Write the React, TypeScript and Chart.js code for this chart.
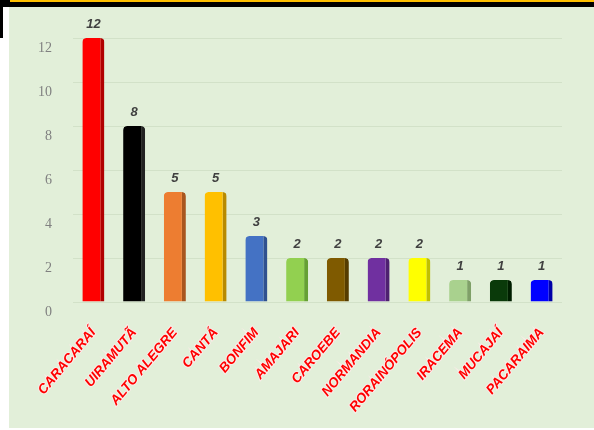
import React, { useEffect, useRef } from "react";
import { Chart, registerables } from "chart.js";

Chart.register(...registerables);

const categories = [
  "CARACARAÍ", "UIRAMUTÃ", "ALTO ALEGRE", "CANTÁ", "BONFIM", "AMAJARI",
  "CAROEBE", "NORMANDIA", "RORAINÓPOLIS", "IRACEMA", "MUCAJAÍ", "PACARAIMA",
];
const values = [12, 8, 5, 5, 3, 2, 2, 2, 2, 1, 1, 1];
const barColors = [
  "#ff0000", "#000000", "#ed7d31", "#ffc000", "#4472c4", "#92d050",
  "#7f5a00", "#7030a0", "#ffff00", "#a9d18e", "#0a3a0a", "#0000ff",
];
const sideColors = [
  "#b00000", "#222222", "#a8561f", "#b88a00", "#2f5190", "#66a034",
  "#553c00", "#4e2070", "#c0c000", "#7fa068", "#001e00", "#0000a8",
];
const yTicks = [0, 2, 4, 6, 8, 10, 12];

const valueLabels = {
  id: "valueLabels",
  afterDatasetsDraw(chart: any) {
    const ctx = chart.ctx;
    const meta = chart.getDatasetMeta(0);
    ctx.save();
    ctx.font = "italic bold 13px 'Liberation Sans', Arial, sans-serif";
    ctx.fillStyle = "#404040";
    ctx.textAlign = "center";
    ctx.textBaseline = "middle";
    meta.data.forEach((bar: any, i: number) => {
      ctx.fillText(String(values[i]), bar.x, bar.y - 14);
    });
    ctx.restore();
  },
};

export default function App() {
  const ref = useRef<HTMLCanvasElement>(null);
  useEffect(() => {
    if (!ref.current) return;
    const chart = new Chart(ref.current, {
      type: "bar",
      data: {
        labels: categories,
        datasets: [
          {
            data: values,
            backgroundColor: barColors,
            borderColor: sideColors,
            borderWidth: { left: 0, top: 0, bottom: 0, right: 4 } as any,
            borderSkipped: false,
            borderRadius: { topLeft: 4, topRight: 4, bottomLeft: 0, bottomRight: 0 },
            barPercentage: 0.54,
            categoryPercentage: 1,
          },
        ],
      },
      options: {
        animation: false,
        responsive: false,
        devicePixelRatio: 1,
        layout: { padding: { left: 0, right: 32, top: 38, bottom: 0 } },
        plugins: { legend: { display: false }, tooltip: { enabled: false } },
        scales: {
          x: {
            grid: { display: false },
            border: { display: false },
            ticks: {
              color: "#ff0000",
              font: { family: "'Liberation Sans', Arial, sans-serif", size: 13.5, style: "italic", weight: "bold" },
              minRotation: 50,
              maxRotation: 50,
              autoSkip: false,
              padding: 15,
              textStrokeColor: "rgba(255,235,235,0.8)",
              textStrokeWidth: 2,
            } as any,
            afterFit: (scale: any) => {
              scale.height = 128;
            },
          },
          y: {
            min: 0,
            max: 12,
            afterBuildTicks: (scale: any) => {
              scale.ticks = yTicks.map((v) => ({ value: v }));
            },
            grid: { color: "#d2e1c8", lineWidth: 1, drawTicks: false },
            border: { display: false },
            ticks: {
              color: "#808080",
              font: { family: "'Liberation Serif', serif", size: 14 },
              padding: 21,
              labelOffset: 10,
            },
            afterFit: (scale: any) => {
              scale.width = 73;
            },
          },
        },
      },
      plugins: [valueLabels],
    });
    return () => chart.destroy();
  }, []);

  return (
    <div style={{ position: "fixed", left: 0, top: 0, width: 594, height: 430, background: "#ffffff", overflow: "hidden" }}>
      <div style={{ position: "absolute", left: 9, top: 7, width: 585, height: 421, background: "#e2efd9" }} />
      <canvas ref={ref} width={594} height={430} style={{ position: "absolute", left: 0, top: 0, width: 594, height: 430 }} />
      <div style={{ position: "absolute", left: 0, top: 0, width: 594, height: 7, background: "#000000" }} />
      <div style={{ position: "absolute", left: 10, top: 0, width: 584, height: 2, background: "#ffc000" }} />
      <div style={{ position: "absolute", left: 0, top: 0, width: 3, height: 38, background: "#000000" }} />
    </div>
  );
}
